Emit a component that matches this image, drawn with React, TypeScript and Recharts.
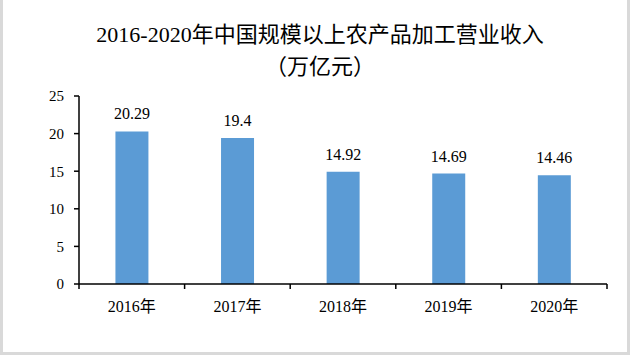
import { BarChart, Bar, XAxis, YAxis, LabelList } from "recharts";

const years = ["2016年", "2017年", "2018年", "2019年", "2020年"];
const revenue = [20.29, 19.4, 14.92, 14.69, 14.46];
const yTicks = [0, 5, 10, 15, 20, 25];

const W = 630;
const H = 360;
const M = { top: 96, right: 23, bottom: 46, left: 19 };
const Y_AXIS_W = 60;
const FONT = "'Liberation Serif', 'Noto Sans CJK SC', serif";

const rows = years.map((year, i) => ({ year, value: revenue[i] }));
const band = (W - M.left - M.right - Y_AXIS_W) / years.length;

function YearTick(props: any) {
  const { x, y, payload, index } = props;
  const last = index === years.length - 1;
  return (
    <g>
      <line x1={x - band / 2} x2={x - band / 2} y1={y} y2={y + 5} stroke="#000" strokeWidth={1.5} />
      {last && <line x1={x + band / 2} x2={x + band / 2} y1={y} y2={y + 5} stroke="#000" strokeWidth={1.5} />}
      <text x={x} y={y + 28} textAnchor="middle" fontSize={16} fontFamily={FONT} fill="#000">
        {payload.value}
      </text>
    </g>
  );
}

export default function App() {
  return (
    <div style={{ position: "relative", width: W, height: H, background: "#fff", fontFamily: FONT }}>
      <style>{`body{margin:0}`}</style>
      <div
        style={{
          position: "absolute",
          left: 0,
          top: -3,
          width: W,
          height: H - 2,
          boxSizing: "border-box",
          border: "3px solid #d9d9d9",
        }}
      />
      <div
        style={{
          position: "absolute",
          left: 0,
          top: 19,
          width: W,
          textAlign: "center",
          fontSize: 22,
          lineHeight: "32px",
          color: "#000",
          paddingLeft: 10,
          boxSizing: "border-box",
        }}
      >
        2016-2020年中国规模以上农产品加工营业收入
        <br />
        （万亿元）
      </div>
      <div style={{ position: "absolute", left: 0, top: 0 }}>
        <BarChart width={W} height={H} data={rows} margin={M} barCategoryGap="34.5%">
          <XAxis
            dataKey="year"
            axisLine={{ stroke: "#000", strokeWidth: 1.5 }}
            tickLine={false}
            tickSize={0}
            tickMargin={0}
            height={30}
            tick={<YearTick />}
            interval={0}
          />
          <YAxis
            width={Y_AXIS_W}
            domain={[0, 25]}
            ticks={yTicks}
            axisLine={{ stroke: "#000", strokeWidth: 1.5 }}
            tickLine={{ stroke: "#000", strokeWidth: 1.5 }}
            tickSize={5}
            tickMargin={10}
            tick={{ fill: "#000", fontSize: 15, fontFamily: FONT }}
          />
          <Bar dataKey="value" fill="#5b9bd5" isAnimationActive={false}>
            <LabelList dataKey="value" position="top" offset={12} fill="#000" fontSize={16} fontFamily={FONT} />
          </Bar>
        </BarChart>
      </div>
    </div>
  );
}
